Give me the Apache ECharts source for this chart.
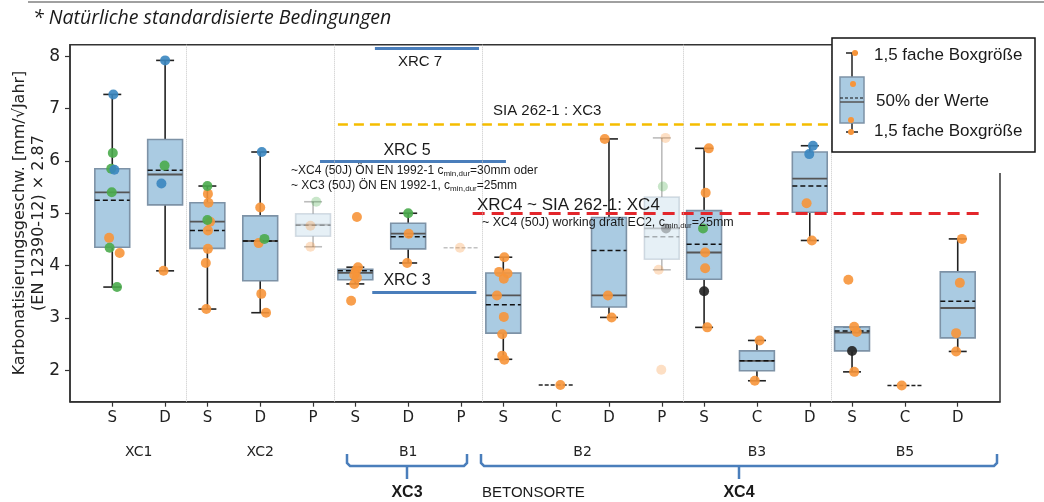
<!DOCTYPE html>
<html>
<head>
<meta charset="utf-8">
<script src="https://cdn.jsdelivr.net/npm/echarts@6/dist/echarts.min.js"></script>
<style>
html, body { margin: 0; padding: 0; background: #fff; }
#chart { width: 1044px; height: 502px; }
</style>
</head>
<body>
<div id="chart"></div>
<script>
// groups and their categories (S, D, P, C)
var groupNames = ['XC1', 'XC2', 'B1', 'B2', 'B3', 'B5'];
var groupCats = [['S', 'D'], ['S', 'D', 'P'], ['S', 'D', 'P'], ['S', 'C', 'D', 'P'], ['S', 'C', 'D'], ['S', 'C', 'D']];

// box statistics per category: [low whisker, q1, median, q3, high whisker, mean]
var boxStats = [
  [3.59, 4.35, 5.40, 5.85, 7.27, 5.25],
  [3.90, 5.16, 5.74, 6.41, 7.92, 5.82],
  [3.17, 4.33, 4.84, 5.20, 5.52, 4.67],
  [3.10, 3.71, 4.47, 4.95, 6.17, 4.47],
  [4.36, 4.56, 4.78, 4.99, 5.22, 4.77],
  [3.65, 3.73, 3.86, 3.93, 3.97, 3.90],
  [4.05, 4.32, 4.61, 4.81, 5.00, 4.55],
  [4.34, 4.34, 4.34, 4.34, 4.34, 4.34],
  [2.21, 2.71, 3.43, 3.86, 4.16, 3.25],
  [1.72, 1.72, 1.72, 1.72, 1.72, 1.72],
  [3.01, 3.21, 3.43, 4.92, 6.42, 4.29],
  [3.92, 4.12, 4.71, 5.31, 6.44, 4.55],
  [2.82, 3.74, 4.25, 5.05, 6.24, 4.41],
  [1.80, 1.99, 2.18, 2.37, 2.57, 2.18],
  [4.48, 5.02, 5.66, 6.17, 6.29, 5.52],
  [1.97, 2.37, 2.72, 2.83, 2.83, 2.75],
  [1.71, 1.71, 1.71, 1.71, 1.71, 1.71],
  [2.36, 2.62, 3.19, 3.88, 4.51, 3.32]
];

// categories drawn pale in the original (P of XC2, B1, B2)
var paleCats = [false, false, false, false, true, false, false, true, false, false, false, true, false, false, false, false, false, false];

// single measurements per category: [value, colour key, jitter]
var points = [
  [[7.27, 'b', 0.02], [6.15, 'g', 0.01], [5.85, 'g', -0.02], [5.83, 'b', 0.04], [5.40, 'g', -0.01], [4.53, 'o', -0.06], [4.34, 'g', -0.05], [4.24, 'o', 0.14], [3.59, 'g', 0.09]],
  [[7.92, 'b', 0], [5.91, 'g', -0.01], [5.57, 'b', -0.07], [3.90, 'o', -0.03]],
  [[5.52, 'g', 0], [5.37, 'o', 0.01], [5.20, 'o', 0.02], [4.87, 'g', 0], [4.84, 'o', 0.05], [4.67, 'o', 0.01], [4.32, 'o', 0.01], [4.05, 'o', -0.03], [3.17, 'o', -0.02]],
  [[6.17, 'b', 0.03], [5.11, 'o', 0], [4.51, 'g', 0.08], [4.43, 'o', -0.03], [3.46, 'o', 0.02], [3.10, 'o', 0.11]],
  [[5.22, 'g', 0.06], [4.76, 'o', -0.05], [4.36, 'o', -0.05]],
  [[4.93, 'o', 0.03], [3.97, 'o', 0.05], [3.90, 'o', 0.01], [3.82, 'o', -0.02], [3.77, 'o', 0.03], [3.65, 'o', -0.02], [3.33, 'o', -0.08]],
  [[5.00, 'g', 0], [4.61, 'o', 0.01], [4.05, 'o', -0.02]],
  [[4.34, 'o', -0.02]],
  [[4.16, 'o', 0.02], [3.88, 'o', -0.08], [3.85, 'o', 0.08], [3.75, 'o', 0.01], [3.43, 'o', -0.12], [3.02, 'o', 0.01], [2.69, 'o', -0.02], [2.28, 'o', -0.02], [2.20, 'o', 0.02]],
  [[1.72, 'o', 0.08]],
  [[6.42, 'o', -0.08], [3.43, 'o', -0.02], [3.01, 'o', 0.05]],
  [[6.44, 'o', 0.07], [5.51, 'g', 0.02], [4.71, 'k', 0.08], [3.92, 'o', -0.06], [2.01, 'o', -0.01]],
  [[6.24, 'o', 0.09], [5.39, 'o', 0.03], [4.71, 'g', -0.02], [4.25, 'o', 0.02], [3.95, 'o', 0.02], [3.51, 'k', 0], [2.82, 'o', 0.06]],
  [[2.57, 'o', 0.05], [1.80, 'o', -0.04]],
  [[6.29, 'b', 0.06], [6.13, 'b', -0.01], [5.19, 'o', -0.06], [4.48, 'o', 0.04]],
  [[3.73, 'o', -0.07], [2.83, 'o', 0.04], [2.73, 'o', 0.09], [2.37, 'k', 0], [1.97, 'o', 0.04]],
  [[1.71, 'o', -0.06]],
  [[4.51, 'o', 0.08], [3.67, 'o', 0.04], [2.71, 'o', -0.03], [2.36, 'o', -0.03]]
];

var yTicks = [2, 3, 4, 5, 6, 7, 8];

// reference levels
var xrcLevels = [8.16, 6.0, 3.5];   // XRC 7, XRC 5, XRC 3
var siaXC3 = 6.7;
var siaXC4 = 5.0;

var colors = { o: '#f7953a', g: '#4aab4c', b: '#3a86c0', k: '#222222' };

// x positions: one unit per category, 0.8 gap between groups
var GAP = 0.8;
var positions = [], labels = [], groupCenters = [], separators = [];
var start = 0;
groupCats.forEach(function (cats, g) {
  cats.forEach(function (c, k) {
    positions.push(start + k);
    labels.push(c);
  });
  groupCenters.push(start + (cats.length - 1) / 2);
  if (g < groupCats.length - 1) separators.push(start + cats.length - 1 + GAP / 2);
  start = start + cats.length - 1 + GAP;
});
var xMin = -GAP, xMax = positions[positions.length - 1] + GAP;

function nearestIdx(arr, v) {
  for (var i = 0; i < arr.length; i++) if (Math.abs(arr[i] - v) < 1e-6) return i;
  return -1;
}

var BOX_W = 0.66, CAP_W = 0.34;

function renderBox(params, api) {
  var x = api.value(0);
  var lo = api.value(1), q1 = api.value(2), med = api.value(3), q3 = api.value(4), hi = api.value(5), mean = api.value(6);
  var op = api.value(7) ? 0.3 : 1;
  var half = api.size([BOX_W, 0])[0] / 2;
  var cap = api.size([CAP_W, 0])[0] / 2;
  var pLo = api.coord([x, lo]), pQ1 = api.coord([x, q1]), pMed = api.coord([x, med]);
  var pQ3 = api.coord([x, q3]), pHi = api.coord([x, hi]), pMean = api.coord([x, mean]);
  var cx = pMed[0];
  var kids = [];
  if (q3 - q1 < 1e-9) {
    kids.push({ type: 'line', shape: { x1: cx - half, y1: pMean[1], x2: cx + half, y2: pMean[1] },
      style: { stroke: op < 1 ? '#999' : '#222', lineWidth: 1.6, lineDash: [4, 2], opacity: op < 1 ? 0.6 : 1 } });
    return { type: 'group', children: kids };
  }
  var wStyle = { stroke: '#222', lineWidth: 1.6, opacity: op };
  kids.push({ type: 'line', shape: { x1: cx, y1: pHi[1], x2: cx, y2: pQ3[1] }, style: wStyle });
  kids.push({ type: 'line', shape: { x1: cx, y1: pQ1[1], x2: cx, y2: pLo[1] }, style: wStyle });
  kids.push({ type: 'line', shape: { x1: cx - cap, y1: pHi[1], x2: cx + cap, y2: pHi[1] }, style: wStyle });
  kids.push({ type: 'line', shape: { x1: cx - cap, y1: pLo[1], x2: cx + cap, y2: pLo[1] }, style: wStyle });
  kids.push({ type: 'rect', shape: { x: cx - half, y: pQ3[1], width: half * 2, height: pQ1[1] - pQ3[1] },
    style: { fill: 'rgba(31,119,180,0.38)', stroke: '#7d92a6', lineWidth: 1.6, opacity: op } });
  kids.push({ type: 'line', shape: { x1: cx - half, y1: pMed[1], x2: cx + half, y2: pMed[1] },
    style: { stroke: '#555', lineWidth: 1.8, opacity: op } });
  kids.push({ type: 'line', shape: { x1: cx - half, y1: pMean[1], x2: cx + half, y2: pMean[1] },
    style: { stroke: '#111', lineWidth: 1.5, lineDash: [5, 3], opacity: op } });
  return { type: 'group', children: kids };
}

var boxData = boxStats.map(function (s, i) {
  return [positions[i], s[0], s[1], s[2], s[3], s[4], s[5], paleCats[i] ? 1 : 0];
});

var scatterSeries = ['o', 'g', 'b', 'k'].map(function (key) {
  var data = [];
  points.forEach(function (list, i) {
    list.forEach(function (p) {
      if (p[1] === key) {
        data.push({ value: [positions[i] + p[2], p[0]], itemStyle: { opacity: paleCats[i] ? 0.3 : 0.9 } });
      }
    });
  });
  return {
    type: 'scatter', name: key, data: data, symbolSize: 10, z: 5,
    itemStyle: { color: colors[key] }, silent: true
  };
});

// reference lines (x extents in category units)
var blue = '#4a7ebb';
var refLines = {
  silent: true, symbol: ['none', 'none'], animation: false,
  label: { show: false },
  data: [
    [{ coord: [4.97, xrcLevels[0]], lineStyle: { color: blue, width: 3, type: 'solid' } }, { coord: [6.94, xrcLevels[0]] }],
    [{ coord: [3.93, xrcLevels[1]], lineStyle: { color: blue, width: 3, type: 'solid' } }, { coord: [7.45, xrcLevels[1]] }],
    [{ coord: [4.92, xrcLevels[2]], lineStyle: { color: blue, width: 3, type: 'solid' } }, { coord: [6.89, xrcLevels[2]] }],
    [{ coord: [4.27, siaXC3], lineStyle: { color: '#f5bd00', width: 2.5, type: [10, 6] } }, { coord: [xMax, siaXC3] }],
    [{ coord: [6.82, siaXC4], lineStyle: { color: '#e3262b', width: 3, type: [12, 7] } }, { coord: [16.46, siaXC4] }]
  ].concat(separators.map(function (s) {
    return [{ coord: [s, 1.4], lineStyle: { color: '#c8c8c8', width: 1, type: 'dotted' } }, { coord: [s, 8.22] }];
  }))
};
scatterSeries[0].markLine = refLines;

function txt(x, y, text, size, extra) {
  var st = {
    text: text, fill: '#1a1a1a', font: (extra && extra.weight ? extra.weight + ' ' : '') + size + 'px "Liberation Sans", Arial, sans-serif',
    align: (extra && extra.align) || 'center', verticalAlign: 'middle'
  };
  if (extra && extra.rich) st.rich = extra.rich;
  if (extra && extra.fontFamily) st.font = (extra.style || '') + ' ' + size + 'px ' + extra.fontFamily;
  return { type: 'text', x: x, y: y, z: 50, style: st, silent: true };
}

var subRich = {
  sub: { fontSize: 8, fontFamily: 'Liberation Sans', padding: [6, 0, 0, 0], fill: '#1a1a1a' }
};

var yName = txt(29, 223, 'Karbonatisierungsgeschw. [mm/√Jahr]\n(EN 12390-12) × 2.87', 16, { fontFamily: '"DejaVu Sans", sans-serif' });
yName.rotation = Math.PI / 2;
yName.style.lineHeight = 19;
yName.style.fill = '#222';

var graphics = [
  // top gray rule
  { type: 'line', shape: { x1: 28, y1: 2, x2: 1044, y2: 2 }, style: { stroke: '#a0a0a0', lineWidth: 2 }, silent: true },
  txt(33, 18, '* Natürliche standardisierte Bedingungen', 19.5, { align: 'left', fontFamily: '"Open Sans", sans-serif', style: 'italic' }),
  yName,
  // annotations
  txt(420, 62, 'XRC 7', 15),
  txt(407, 151, 'XRC 5', 16),
  txt(291, 171, '~XC4 (50J) ÖN EN 1992-1 c{sub|min,dur}=30mm oder', 12, { align: 'left', rich: subRich }),
  txt(291, 186, '~ XC3 (50J) ÖN EN 1992-1, c{sub|min,dur}=25mm', 12, { align: 'left', rich: subRich }),
  txt(407, 281, 'XRC 3', 16),
  txt(493, 111, 'SIA 262-1 : XC3', 15, { align: 'left' }),
  txt(477, 205, 'XRC4 ~ SIA 262-1: XC4', 17, { align: 'left' }),
  txt(482, 223, '~ XC4 (50J) working draft EC2, c{sub|min,dur}=25mm', 12.5, { align: 'left', rich: subRich }),
  // cover the gap of the right spine below the legend
  { type: 'rect', shape: { x: 996, y: 152, width: 8, height: 21 }, style: { fill: '#fff' }, z: 60, silent: true },
  // legend box
  { type: 'rect', shape: { x: 832, y: 38, width: 203, height: 114 }, style: { fill: '#fff', stroke: '#111', lineWidth: 1.5 }, z: 60, silent: true },
  { type: 'line', shape: { x1: 852, y1: 53, x2: 852, y2: 77 }, style: { stroke: '#222', lineWidth: 1.5 }, z: 61 },
  { type: 'line', shape: { x1: 852, y1: 123, x2: 852, y2: 132 }, style: { stroke: '#222', lineWidth: 1.5 }, z: 61 },
  { type: 'line', shape: { x1: 846, y1: 53, x2: 858, y2: 53 }, style: { stroke: '#222', lineWidth: 1.5 }, z: 61 },
  { type: 'line', shape: { x1: 846, y1: 132, x2: 858, y2: 132 }, style: { stroke: '#222', lineWidth: 1.5 }, z: 61 },
  { type: 'rect', shape: { x: 840, y: 77, width: 24, height: 46 }, style: { fill: 'rgba(31,119,180,0.38)', stroke: '#7d92a6', lineWidth: 1.5 }, z: 61 },
  { type: 'line', shape: { x1: 840, y1: 102, x2: 864, y2: 102 }, style: { stroke: '#555', lineWidth: 1.5 }, z: 61 },
  { type: 'line', shape: { x1: 840, y1: 98, x2: 864, y2: 98 }, style: { stroke: '#111', lineWidth: 1.2, lineDash: [3, 2] }, z: 61 },
  { type: 'circle', shape: { cx: 855, cy: 53, r: 3 }, style: { fill: colors.o }, z: 62 },
  { type: 'circle', shape: { cx: 853, cy: 84, r: 3 }, style: { fill: colors.o }, z: 62 },
  { type: 'circle', shape: { cx: 851, cy: 120, r: 3 }, style: { fill: colors.o }, z: 62 },
  { type: 'circle', shape: { cx: 851, cy: 132, r: 3 }, style: { fill: colors.o }, z: 62 },
  Object.assign(txt(874, 55, '1,5 fache Boxgröße', 17, { align: 'left' }), { z: 62 }),
  Object.assign(txt(876, 101, '50% der Werte', 17, { align: 'left' }), { z: 62 }),
  Object.assign(txt(874, 131, '1,5 fache Boxgröße', 17, { align: 'left' }), { z: 62 }),
  // braces under the groups
  { type: 'polyline', shape: { points: [[347, 454], [347, 463], [350, 466], [464, 466], [467, 463], [467, 454]] }, style: { stroke: blue, lineWidth: 2.5, fill: null }, silent: true },
  { type: 'line', shape: { x1: 407, y1: 466, x2: 407, y2: 479 }, style: { stroke: blue, lineWidth: 2.5 }, silent: true },
  { type: 'polyline', shape: { points: [[481, 454], [481, 463], [484, 466], [994, 466], [997, 463], [997, 454]] }, style: { stroke: blue, lineWidth: 2.5, fill: null }, silent: true },
  { type: 'line', shape: { x1: 739, y1: 466, x2: 739, y2: 479 }, style: { stroke: blue, lineWidth: 2.5 }, silent: true },
  txt(407, 493, 'XC3', 16, { weight: 'bold' }),
  txt(739, 493, 'XC4', 16, { weight: 'bold' }),
  txt(482, 493, 'BETONSORTE', 15, { align: 'left' })
];

var chart = echarts.init(document.getElementById('chart'));
chart.setOption({
  animation: false,
  grid: {
    left: 70, right: 44, top: 44.7, bottom: 100.3, show: true, borderColor: '#333', borderWidth: 1.5,
    containLabel: false, outerBoundsMode: 'none'
  },
  xAxis: [{
    type: 'value', min: xMin, max: xMax, gridIndex: 0,
    axisLine: { show: true, onZero: false, lineStyle: { color: '#333', width: 1.5 } },
    axisTick: { show: true, customValues: positions, length: 5, lineStyle: { color: '#333', width: 1.2 } },
    axisLabel: {
      customValues: positions, fontSize: 15, fontFamily: 'DejaVu Sans', color: '#222', margin: 9,
      formatter: function (v) { var i = nearestIdx(positions, v); return i >= 0 ? labels[i] : ''; }
    },
    splitLine: { show: false }
  }, {
    type: 'value', min: xMin, max: xMax, gridIndex: 0, position: 'bottom', offset: 36,
    axisLine: { show: false, onZero: false }, axisTick: { show: false }, splitLine: { show: false },
    axisLabel: {
      customValues: groupCenters, fontSize: 14, fontFamily: 'DejaVu Sans', color: '#222', margin: 8,
      formatter: function (v) { var i = nearestIdx(groupCenters, v); return i >= 0 ? groupNames[i] : ''; }
    }
  }],
  yAxis: {
    type: 'value', min: 1.4, max: 8.22,
    axisLine: { show: true, onZero: false, lineStyle: { color: '#333', width: 1.5 } },
    axisTick: { show: true, customValues: yTicks, length: 5, lineStyle: { color: '#333', width: 1.2 } },
    axisLabel: { customValues: yTicks, fontSize: 17, fontFamily: 'DejaVu Sans', color: '#222', margin: 10 },
    splitLine: { show: false }
  },
  series: [{
    type: 'custom', name: 'boxes', renderItem: renderBox, data: boxData, z: 3, silent: true,
    encode: { x: 0, y: [1, 2, 3, 4, 5, 6] }
  }].concat(scatterSeries),
  graphic: graphics
});
</script>
</body>
</html>
